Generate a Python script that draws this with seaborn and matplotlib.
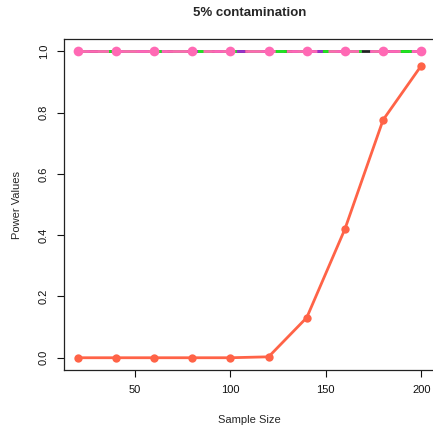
import numpy as np
import pandas as pd
import seaborn as sns
import matplotlib
matplotlib.use("Agg")
import matplotlib.pyplot as plt

sample_size = [20, 40, 60, 80, 100, 120, 140, 160, 180, 200]
power_black = [1.0] * 10
power_purple = [1.0] * 10
power_green = [1.0] * 10
power_pink = [1.0] * 10
power_tomato = [0.0, 0.0, 0.0, 0.0, 0.0, 0.003, 0.131, 0.420, 0.776, 0.953]

sns.set_style("ticks")
plt.rcParams['font.family'] = ['Liberation Sans', 'DejaVu Sans']

fig = plt.figure(figsize=(4.33, 4.28), dpi=100)
ax = fig.add_axes([64 / 433, 1 - 370 / 428, (435 - 64) / 433, (370 - 39) / 428])

# flat series at 1.0 drawn first, pink on top
sns.lineplot(x=sample_size, y=power_black, ax=ax, color="#222222", lw=2.0)
sns.lineplot(x=sample_size, y=power_purple, ax=ax, color="#9a32cd", lw=2.0,
             linestyle=(0, (4, 3)))
sns.lineplot(x=sample_size, y=power_green, ax=ax, color="#1ee81e", lw=2.0,
             linestyle=(2, (5, 4)))
sns.lineplot(x=sample_size, y=power_pink, ax=ax, color="#ff69b4", lw=2.0,
             linestyle=(0, (11, 4)), marker="o", markersize=7, markeredgewidth=0)
sns.lineplot(x=sample_size, y=power_tomato, ax=ax, color="#ff6347", lw=2.0,
             marker="o", markersize=6, markeredgewidth=0)

ax.set_xlim(12.8, 207.2)
ax.set_ylim(-0.04, 1.04)
ax.set_xticks([50, 100, 150, 200])
ax.set_yticks([0.0, 0.2, 0.4, 0.6, 0.8, 1.0])
ax.set_yticklabels(["0.0", "0.2", "0.4", "0.6", "0.8", "1.0"], rotation=90, va="center")
ax.tick_params(axis="both", direction="out", length=5, width=0.8, colors="#111111",
               labelsize=8, pad=6)
for s in ax.spines.values():
    s.set_visible(True)
    s.set_color("#222222")
    s.set_linewidth(0.9)

ax.set_xlabel("Sample Size", fontsize=8, labelpad=14)
ax.set_ylabel("Power Values", fontsize=8, labelpad=12)
fig.text((64 + 435) / 2 / 433, 1 - 13 / 428, "5% contamination", ha="center",
         va="center", fontsize=9.5, fontweight="bold")

fig.savefig("out.png", dpi=100)
